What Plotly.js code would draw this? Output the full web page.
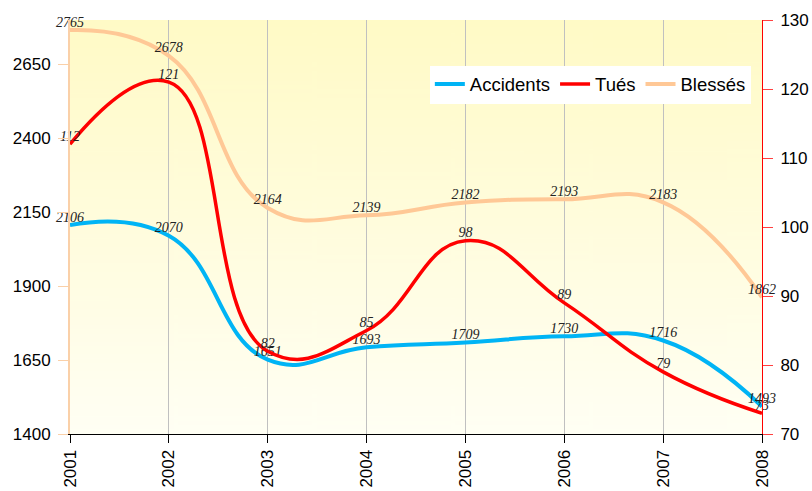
<!DOCTYPE html>
<html>
<head>
<meta charset="utf-8">
<script src="https://cdn.plot.ly/plotly-3.0.1.min.js"></script>
<style>html,body{margin:0;padding:0;background:#fff;}#chart{width:812px;height:491px;}</style>
</head>
<body>
<div id="chart"></div>
<script>
const years = ['2001','2002','2003','2004','2005','2006','2007','2008'];
const accidents = [2106, 2070, 1651, 1693, 1709, 1730, 1716, 1493];
const tues = [112, 121, 82, 85, 98, 89, 79, 73];
const blesses = [2765, 2678, 2164, 2139, 2182, 2193, 2183, 1862];
const leftTicks = [1400, 1650, 1900, 2150, 2400, 2650];
const rightTicks = [70, 80, 90, 100, 110, 120, 130];

// background gradient image
const cv = document.createElement('canvas');
cv.width = 10; cv.height = 200;
const ctx = cv.getContext('2d');
const g = ctx.createLinearGradient(0, 0, 0, 200);
g.addColorStop(0, '#FFFAC6');
g.addColorStop(1, '#FFFFF4');
ctx.fillStyle = g;
ctx.fillRect(0, 0, 10, 200);
const bg = cv.toDataURL('image/png');

const labelFont = {family: 'Liberation Serif, Times New Roman, serif', size: 14, color: '#222', style: 'italic'};

function trace(name, y, color, width, axis, rank) {
  return {
    x: years, y: y, name: name, type: 'scatter', mode: 'lines+text',
    yaxis: axis, legendrank: rank,
    line: {color: color, width: width, shape: 'spline', smoothing: 1.3},
    text: y.map(String), textposition: 'top center',
    textfont: labelFont, cliponaxis: false, hoverinfo: 'x+y'
  };
}

const data = [
  trace('Blessés', blesses, '#FFC896', 4, 'y', 3),
  trace('Accidents', accidents, '#00B4F5', 4, 'y', 1),
  trace('Tués', tues, '#FF0000', 3.5, 'y2', 2)
];

const layout = {
  width: 812, height: 491,
  margin: {l: 70, r: 50, t: 20, b: 57},
  paper_bgcolor: '#ffffff',
  plot_bgcolor: 'rgba(0,0,0,0)',
  font: {family: 'Liberation Sans, Arial, sans-serif', size: 17, color: '#000'},
  showlegend: true,
  legend: {
    orientation: 'h', x: 0.52, y: 0.89, xanchor: 'left', yanchor: 'top',
    bgcolor: '#ffffff', font: {size: 18.5, color: '#000'},
    traceorder: 'normal', itemwidth: 30
  },
  images: [{source: bg, xref: 'paper', yref: 'paper', x: 0, y: 1, sizex: 1, sizey: 1,
            sizing: 'stretch', layer: 'below', xanchor: 'left', yanchor: 'top'}],
  xaxis: {
    type: 'category', categoryorder: 'array', categoryarray: years,
    range: [0, years.length - 1],
    tickangle: -90, showgrid: true, gridcolor: '#C0C0C0', gridwidth: 1,
    showline: true, linecolor: '#000', linewidth: 1,
    ticks: 'outside', ticklen: 8, tickcolor: '#000',
    tickfont: {size: 17}, zeroline: false
  },
  yaxis: {
    range: [1400, 2799], tickmode: 'array', tickvals: leftTicks, ticktext: leftTicks.map(String),
    showgrid: false, zeroline: false,
    showline: true, linecolor: '#FAD0A8', linewidth: 2,
    ticks: 'outside', ticklen: 10, tickcolor: '#FAD0A8', tickwidth: 1,
    ticklabelstandoff: 4,
    tickfont: {size: 17}
  },
  yaxis2: {
    overlaying: 'y', side: 'right',
    range: [70, 130], tickmode: 'array', tickvals: rightTicks, ticktext: rightTicks.map(String),
    showgrid: false, zeroline: false,
    showline: true, linecolor: '#FF0000', linewidth: 1,
    ticks: 'outside', ticklen: 10, tickcolor: '#FF4040', tickwidth: 1,
    ticklabelstandoff: 4,
    tickfont: {size: 17}
  }
};

Plotly.newPlot('chart', data, layout, {displayModeBar: false, staticPlot: true});
</script>
</body>
</html>
